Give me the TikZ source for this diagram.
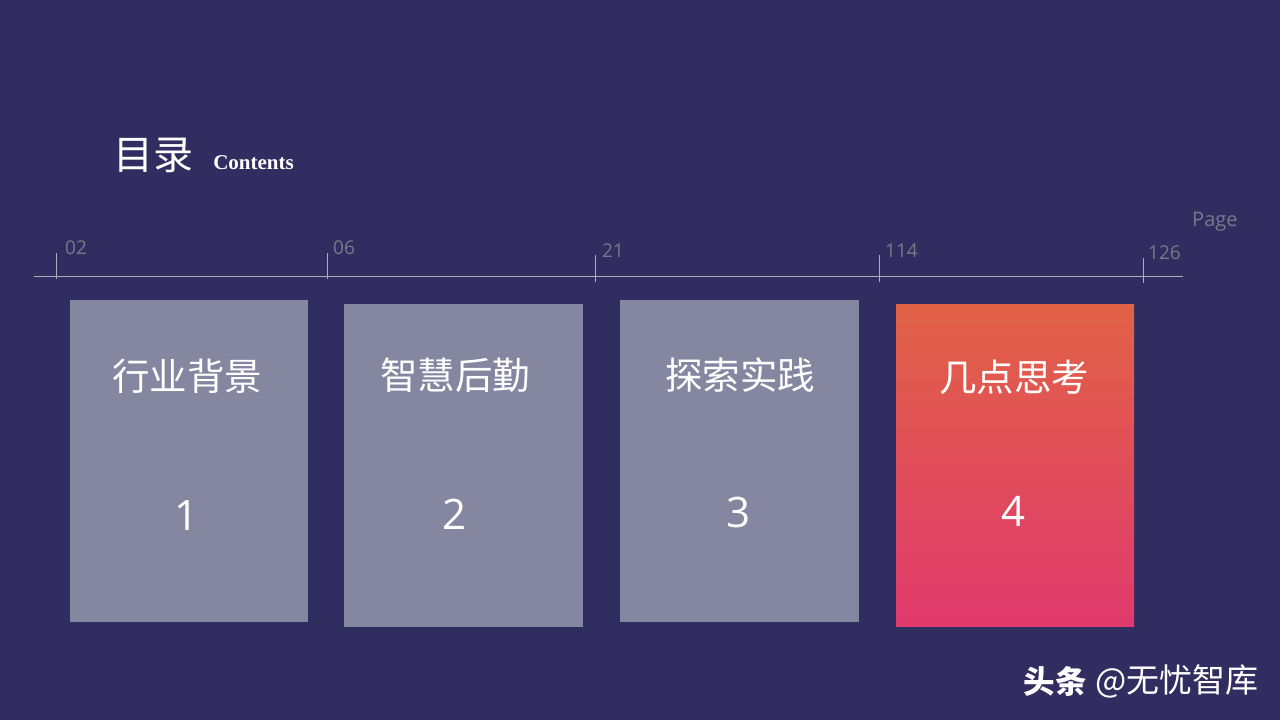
\documentclass[tikz,border=0pt]{standalone}
\usepackage{fontspec}
\setmainfont{Open Sans}
\newfontfamily\cjk{Noto Sans CJK SC}
\newfontfamily\titlefont{Liberation Serif}
\definecolor{bgcol}{HTML}{312D60}
\definecolor{cardcol}{HTML}{8587A1}
\definecolor{tickcol}{HTML}{B0AEB8}
\definecolor{pagecol}{HTML}{7B7889}
\definecolor{hottop}{HTML}{E16246}
\definecolor{hotbot}{HTML}{E0396D}
\tikzset{
  cardtitle/.style={text=white,font=\cjk\fontsize{37.5}{40}\selectfont},
  cardnum/.style={text=white,font=\fontsize{42}{46}\selectfont},
  pagenum/.style={text=pagecol,font=\fontsize{19}{21}\selectfont,inner sep=0pt},
  tickline/.style={draw=tickcol,line width=0.8pt},
  axisline/.style={draw=tickcol,line width=1.5pt}
}
\begin{document}
\begin{tikzpicture}[x=1pt,y=-1pt]
  \useasboundingbox[fill=bgcol] (0,0) rectangle (1280,720);
  % title
  \node[text=white,font=\cjk\fontsize{40}{44}\selectfont,inner sep=0pt] (title) at (153,155) {目录};
  \node[text=white,font=\titlefont\bfseries\fontsize{21}{24}\selectfont,inner sep=0pt] (contents) at (253.5,162.5) {Contents};
  % page scale
  \coordinate (axisl) at (34,276.5);
  \coordinate (axisr) at (1183,276.5);
  \draw[axisline] (axisl) -- (axisr);
  \foreach \px/\ptop/\pbot/\pname in {56/253/279/a,327/253/279/b,595/255/282/c,879/255/282/d,1143/258/283/e}{
    \coordinate (top\pname) at (\px,\ptop);
    \coordinate (bot\pname) at (\px,\pbot);
    \draw[tickline] (top\pname) -- (bot\pname);
  }
  \node[pagenum,anchor=base west] (pa) at (65,254) {02};
  \node[pagenum,anchor=base west] (pb) at (333,254) {06};
  \node[pagenum,anchor=base west] (pc) at (602,257) {21};
  \node[pagenum,anchor=base west] (pd) at (885,257) {114};
  \node[pagenum,anchor=base west] (pe) at (1148,259) {126};
  \node[pagenum,font=\fontsize{20}{22}\selectfont,anchor=base west] (page) at (1192,226) {Page};
  % cards
  \fill[cardcol] (70,300) rectangle (308,622);
  \fill[cardcol] (344,304) rectangle (583,627);
  \fill[cardcol] (620,300) rectangle (859,622);
  \shade[top color=hottop,bottom color=hotbot] (896,304) rectangle (1134,626);
  \node[cardtitle] (ta) at (187,376) {行业背景};
  \node[cardtitle] (tb) at (455,375) {智慧后勤};
  \node[cardtitle] (tc) at (740,375) {探索实践};
  \node[cardtitle] (td) at (1014,377) {几点思考};
  \node[cardnum] (na) at (186.5,516) {1};
  \node[cardnum] (nb) at (454.5,514) {2};
  \node[cardnum] (nc) at (738.5,512) {3};
  \node[cardnum] (nd) at (1013.5,511) {4};
  % watermark
  \node[text=white,font=\cjk\bfseries\fontsize{31.5}{34}\selectfont,inner sep=0pt] (wma) at (1055,681) {头条};
  \node[text=white,font=\cjk\fontsize{33}{36}\selectfont,inner sep=0pt,anchor=west] (wmb) at (1095,681) {@无忧智库};
\end{tikzpicture}
\end{document}
